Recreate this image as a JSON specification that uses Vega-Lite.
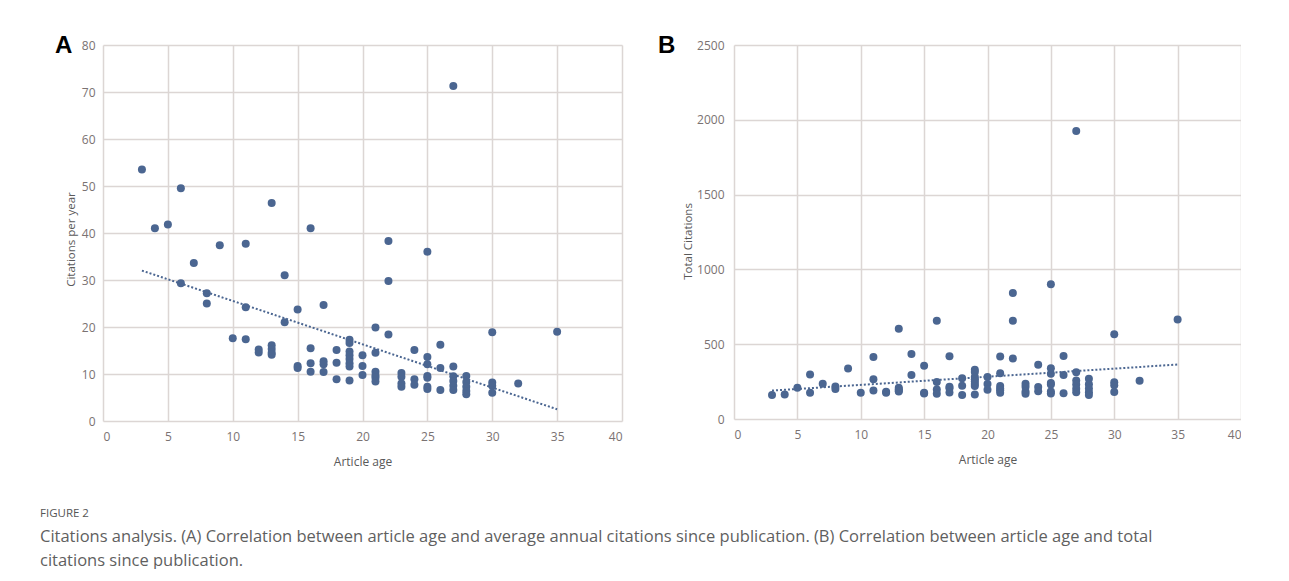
{
  "$schema": "https://vega.github.io/schema/vega-lite/v6.json",
  "background": "white",
  "padding": {"left": 40, "top": 34, "right": 0, "bottom": 0},
  "datasets": {
    "articles": [
      {"age": 3, "cpy": 53.5, "total": 161},
      {"age": 4, "cpy": 41.0, "total": 164},
      {"age": 5, "cpy": 41.8, "total": 209},
      {"age": 6, "cpy": 49.5, "total": 297},
      {"age": 6, "cpy": 29.3, "total": 176},
      {"age": 7, "cpy": 33.6, "total": 235},
      {"age": 8, "cpy": 27.2, "total": 218},
      {"age": 8, "cpy": 25.0, "total": 200},
      {"age": 9, "cpy": 37.4, "total": 337},
      {"age": 10, "cpy": 17.6, "total": 176},
      {"age": 11, "cpy": 37.7, "total": 415},
      {"age": 11, "cpy": 24.2, "total": 266},
      {"age": 11, "cpy": 17.4, "total": 191},
      {"age": 12, "cpy": 15.2, "total": 182},
      {"age": 12, "cpy": 14.6, "total": 175},
      {"age": 13, "cpy": 46.4, "total": 603},
      {"age": 13, "cpy": 16.1, "total": 209},
      {"age": 13, "cpy": 15.3, "total": 199},
      {"age": 13, "cpy": 14.5, "total": 189},
      {"age": 13, "cpy": 14.1, "total": 183},
      {"age": 14, "cpy": 31.0, "total": 434},
      {"age": 14, "cpy": 21.0, "total": 294},
      {"age": 15, "cpy": 23.7, "total": 356},
      {"age": 15, "cpy": 11.7, "total": 176},
      {"age": 15, "cpy": 11.3, "total": 170},
      {"age": 16, "cpy": 41.0, "total": 656},
      {"age": 16, "cpy": 15.5, "total": 248},
      {"age": 16, "cpy": 12.3, "total": 197},
      {"age": 16, "cpy": 10.5, "total": 168},
      {"age": 17, "cpy": 24.7, "total": 420},
      {"age": 17, "cpy": 12.7, "total": 216},
      {"age": 17, "cpy": 12.1, "total": 206},
      {"age": 17, "cpy": 10.4, "total": 177},
      {"age": 18, "cpy": 15.1, "total": 272},
      {"age": 18, "cpy": 12.4, "total": 223},
      {"age": 18, "cpy": 8.9, "total": 160},
      {"age": 19, "cpy": 17.3, "total": 329},
      {"age": 19, "cpy": 16.6, "total": 315},
      {"age": 19, "cpy": 14.8, "total": 281},
      {"age": 19, "cpy": 14.0, "total": 266},
      {"age": 19, "cpy": 13.2, "total": 251},
      {"age": 19, "cpy": 12.3, "total": 234},
      {"age": 19, "cpy": 11.6, "total": 220},
      {"age": 19, "cpy": 8.6, "total": 163},
      {"age": 20, "cpy": 14.0, "total": 280},
      {"age": 20, "cpy": 11.7, "total": 234},
      {"age": 20, "cpy": 9.8, "total": 196},
      {"age": 21, "cpy": 19.9, "total": 418},
      {"age": 21, "cpy": 14.5, "total": 305},
      {"age": 21, "cpy": 10.5, "total": 221},
      {"age": 21, "cpy": 9.7, "total": 204},
      {"age": 21, "cpy": 9.2, "total": 193},
      {"age": 21, "cpy": 8.4, "total": 176},
      {"age": 22, "cpy": 38.3, "total": 843},
      {"age": 22, "cpy": 29.8, "total": 656},
      {"age": 22, "cpy": 18.4, "total": 405},
      {"age": 23, "cpy": 10.2, "total": 235},
      {"age": 23, "cpy": 9.4, "total": 216},
      {"age": 23, "cpy": 8.0, "total": 184},
      {"age": 23, "cpy": 7.3, "total": 168},
      {"age": 24, "cpy": 15.1, "total": 362},
      {"age": 24, "cpy": 8.9, "total": 214},
      {"age": 24, "cpy": 7.7, "total": 185},
      {"age": 25, "cpy": 36.0, "total": 900},
      {"age": 25, "cpy": 13.6, "total": 340},
      {"age": 25, "cpy": 12.1, "total": 303},
      {"age": 25, "cpy": 9.6, "total": 240},
      {"age": 25, "cpy": 9.2, "total": 230},
      {"age": 25, "cpy": 7.3, "total": 183},
      {"age": 25, "cpy": 6.8, "total": 170},
      {"age": 26, "cpy": 16.2, "total": 421},
      {"age": 26, "cpy": 11.3, "total": 294},
      {"age": 26, "cpy": 6.6, "total": 172},
      {"age": 27, "cpy": 71.3, "total": 1925},
      {"age": 27, "cpy": 11.6, "total": 313},
      {"age": 27, "cpy": 9.5, "total": 257},
      {"age": 27, "cpy": 8.5, "total": 230},
      {"age": 27, "cpy": 7.5, "total": 203},
      {"age": 27, "cpy": 6.6, "total": 178},
      {"age": 28, "cpy": 9.6, "total": 269},
      {"age": 28, "cpy": 8.3, "total": 232},
      {"age": 28, "cpy": 7.3, "total": 204},
      {"age": 28, "cpy": 6.4, "total": 179},
      {"age": 28, "cpy": 5.7, "total": 160},
      {"age": 30, "cpy": 18.9, "total": 567},
      {"age": 30, "cpy": 8.2, "total": 246},
      {"age": 30, "cpy": 7.5, "total": 225},
      {"age": 30, "cpy": 6.0, "total": 180},
      {"age": 32, "cpy": 8.0, "total": 256},
      {"age": 35, "cpy": 19.0, "total": 665}
    ],
    "trendA": [
      {"age": 3, "cpy": 32.0},
      {"age": 35, "cpy": 2.5}
    ],
    "trendB": [
      {"age": 3, "total": 190},
      {"age": 35, "total": 364}
    ]
  },
  "config": {
    "view": {"stroke": null},
    "font": "Open Sans",
    "axis": {
      "grid": true,
      "gridColor": "#dcd6d4",
      "gridWidth": 1.5,
      "domain": false,
      "ticks": false,
      "labelColor": "#7a7272",
      "labelFont": "Open Sans",
      "labelFontSize": 12,
      "titleColor": "#595959",
      "titleFont": "Open Sans",
      "titleFontWeight": "normal",
      "titleFontSize": 11.5
    }
  },
  "title": {
    "text": "FIGURE 2",
    "subtitle": [
      "Citations analysis. (A) Correlation between article age and average annual citations since publication. (B) Correlation between article age and total",
      "citations since publication."
    ],
    "orient": "bottom",
    "anchor": "start",
    "dx": -15,
    "offset": 41,
    "font": "Open Sans",
    "fontSize": 11.5,
    "fontWeight": "normal",
    "color": "#555555",
    "subtitleFont": "Open Sans",
    "subtitleFontSize": 16.5,
    "subtitleColor": "#5f5f5f",
    "subtitleLineHeight": 24,
    "subtitlePadding": 9
  },
  "spacing": 36,
  "hconcat": [
    {
      "width": 519,
      "height": 376,
      "title": {
        "text": "A",
        "anchor": "start",
        "frame": "group",
        "font": "Liberation Sans",
        "fontSize": 24,
        "fontWeight": "bold",
        "color": "#000000",
        "dx": -48,
        "dy": 19,
        "offset": 0
      },
      "layer": [
        {
          "data": {"name": "articles"},
          "mark": {"type": "circle", "size": 64, "opacity": 1, "color": "#4b6691"},
          "encoding": {
            "x": {
              "field": "age", "type": "quantitative",
              "scale": {"domain": [0, 40], "nice": false, "zero": true},
              "axis": {"values": [0, 5, 10, 15, 20, 25, 30, 35, 40], "title": "Article age", "labelPadding": 10, "titlePadding": 14, "titleFontSize": 12}
            },
            "y": {
              "field": "cpy", "type": "quantitative",
              "scale": {"domain": [0, 80], "nice": false},
              "axis": {"values": [0, 10, 20, 30, 40, 50, 60, 70, 80], "title": "Citations per year", "labelPadding": 8, "titlePadding": 5, "titleY": 194}
            }
          }
        },
        {
          "data": {"name": "trendA"},
          "mark": {"type": "line", "strokeDash": [2, 2], "strokeWidth": 2, "color": "#4b6691"},
          "encoding": {
            "x": {"field": "age", "type": "quantitative"},
            "y": {"field": "cpy", "type": "quantitative"}
          }
        }
      ]
    },
    {
      "width": 507,
      "height": 374,
      "title": {
        "text": "B",
        "anchor": "start",
        "frame": "group",
        "font": "Liberation Sans",
        "fontSize": 24,
        "fontWeight": "bold",
        "color": "#000000",
        "dx": -76,
        "dy": 19,
        "offset": 0
      },
      "layer": [
        {
          "data": {"name": "articles"},
          "mark": {"type": "circle", "size": 64, "opacity": 1, "color": "#4b6691"},
          "encoding": {
            "x": {
              "field": "age", "type": "quantitative",
              "scale": {"domain": [0, 40], "nice": false},
              "axis": {"values": [0, 5, 10, 15, 20, 25, 30, 35, 40], "title": "Article age", "labelPadding": 10, "titlePadding": 14, "titleFontSize": 12}
            },
            "y": {
              "field": "total", "type": "quantitative",
              "scale": {"domain": [0, 2500], "nice": false},
              "axis": {"values": [0, 500, 1000, 1500, 2000, 2500], "format": "d", "title": "Total Citations", "labelPadding": 10, "titlePadding": 3, "titleY": 196}
            }
          }
        },
        {
          "data": {"name": "trendB"},
          "mark": {"type": "line", "strokeDash": [2, 2], "strokeWidth": 2, "color": "#4b6691"},
          "encoding": {
            "x": {"field": "age", "type": "quantitative"},
            "y": {"field": "total", "type": "quantitative"}
          }
        }
      ]
    }
  ]
}
